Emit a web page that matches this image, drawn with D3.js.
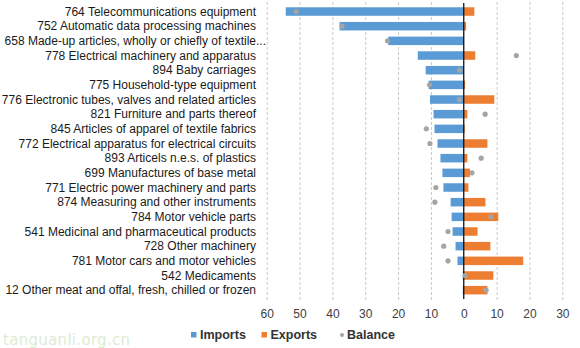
<!DOCTYPE html>
<html><head><meta charset="utf-8">
<script src="https://cdn.jsdelivr.net/npm/d3@7"></script>
<style>body{margin:0;background:#fff}svg{display:block;font-family:"Liberation Sans",Arial,sans-serif}</style>
</head><body><svg id="c" width="580" height="348"></svg>
<script>
const categories = [
 "764 Telecommunications equipment",
 "752 Automatic data processing machines",
 "658 Made-up articles, wholly or chiefly of textile",
 "778 Electrical machinery and apparatus",
 "894 Baby carriages",
 "775 Household-type equipment",
 "776 Electronic tubes, valves and related articles",
 "821 Furniture and parts thereof",
 "845 Articles of apparel of textile fabrics",
 "772 Electrical apparatus for electrical circuits",
 "893 Articels n.e.s. of plastics",
 "699 Manufactures of base metal",
 "771 Electric power machinery and parts",
 "874 Measuring and other instruments",
 "784 Motor vehicle parts",
 "541 Medicinal and pharmaceutical products",
 "728 Other machinery",
 "781 Motor cars and motor vehicles",
 "542 Medicaments",
 "12 Other meat and offal, fresh, chilled or frozen"
];
const truncated = [false,false,true,false,false,false,false,false,false,false,false,false,false,false,false,false,false,false,false,false];
const imports = [54.2,37.8,23.0,14.0,11.6,10.7,10.3,9.2,8.9,8.0,7.1,6.5,6.2,4.0,3.7,3.4,2.5,1.9,0.3,0.3];
const exports_ = [3.2,0.7,0.1,3.5,0.0,0.4,9.3,1.1,0.3,7.2,1.1,1.9,1.4,6.6,10.5,4.2,8.1,18.1,9.0,7.2];
const balance = [-51.0,-37.1,-23.2,16.0,-1.2,-10.4,-1.3,6.5,-11.4,-10.3,5.3,2.5,-8.5,-8.8,8.3,-4.8,-6.1,-4.8,0.4,6.8];
const tickValues = [-60,-50,-40,-30,-20,-10,0,10,20,30];
const tickLabels = ["60","50","40","30","20","10","0","10","20","30"];
const seriesNames = ["Imports","Exports","Balance"];
const colors = {Imports:"#5B9BD5",Exports:"#ED7D31",Balance:"#A5A5A5"};

const svg = d3.select("#c");
const x = d3.scaleLinear().domain([-60,30]).range([266.7,562.3]);
const y = d3.scaleBand().domain(categories).range([4.2,297.5]).paddingInner(0.42).paddingOuter(0.21);

// gridlines
svg.append("g").selectAll("line").data(tickValues.filter(v=>v!==0)).join("line")
  .attr("x1",d=>x(d)+0.5).attr("x2",d=>x(d)+0.5).attr("y1",2).attr("y2",300)
  .attr("stroke","#c8c8c8").attr("stroke-width",1).attr("stroke-dasharray","3,2");

// bars
const rows = categories.map((c,i)=>({c,imp:imports[i],exp:exports_[i],bal:balance[i],tr:truncated[i]}));
svg.append("g").selectAll("rect").data(rows).join("rect")
  .attr("x",d=>x(-d.imp)).attr("width",d=>x(0)-x(-d.imp))
  .attr("y",d=>y(d.c)).attr("height",y.bandwidth()).attr("fill",colors.Imports);
svg.append("g").selectAll("rect").data(rows).join("rect")
  .attr("x",x(0)).attr("width",d=>x(d.exp)-x(0))
  .attr("y",d=>y(d.c)).attr("height",y.bandwidth()).attr("fill",colors.Exports);

// zero line
svg.append("line").attr("x1",x(0)).attr("x2",x(0)).attr("y1",3).attr("y2",299)
  .attr("stroke","#000").attr("stroke-width",1.2);

// balance dots
svg.append("g").selectAll("circle").data(rows).join("circle")
  .attr("cx",d=>x(d.bal)).attr("cy",d=>y(d.c)+y.bandwidth()/2).attr("r",2.6)
  .attr("fill",colors.Balance);

// category labels
svg.append("g").selectAll("text").data(rows).join("text")
  .attr("x",256).attr("y",d=>y(d.c)+y.bandwidth()/2).attr("dy","0.35em")
  .attr("text-anchor","end").attr("font-size",12).attr("fill","#1a1a1a")
  .text(d=>d.c);
svg.append("g").selectAll("text").data(rows.filter(d=>d.tr)).join("text")
  .attr("x",256).attr("y",d=>y(d.c)+y.bandwidth()/2).attr("dy","0.35em")
  .attr("font-size",12).attr("fill","#1a1a1a").text("...");

// x axis
const ax = d3.axisBottom(x).tickValues(tickValues).tickFormat((d,i)=>tickLabels[i]).tickSize(0).tickPadding(0);
const g = svg.append("g").attr("transform","translate(0,309)").call(ax);
g.select(".domain").remove();
g.selectAll("text").attr("font-size",12).attr("fill","#404040").attr("font-family","Liberation Sans, Arial, sans-serif");

// legend
const leg = svg.append("g").attr("font-size",12.5).attr("font-weight","bold").attr("fill","#333");
const legX = [191,261.5,341.5];
seriesNames.forEach((s,i)=>{
  if (s==="Balance") leg.append("circle").attr("cx",legX[i]+0.5).attr("cy",335).attr("r",2).attr("fill",colors[s]);
  else leg.append("rect").attr("x",legX[i]).attr("y",332).attr("width",5.5).attr("height",5.5).attr("fill",colors[s]);
  leg.append("text").attr("x",legX[i]+(s==="Balance"?5.5:9)).attr("y",335).attr("dy","0.35em").attr("fill","#333").text(s);
});

// watermark
svg.append("text").attr("x",3).attr("y",340).attr("dy","0.35em").attr("font-size",15)
  .attr("fill","#dcedd3").attr("font-family","DejaVu Sans, sans-serif").attr("letter-spacing",0.3).text("tanguanli.org.cn");
</script></body></html>
